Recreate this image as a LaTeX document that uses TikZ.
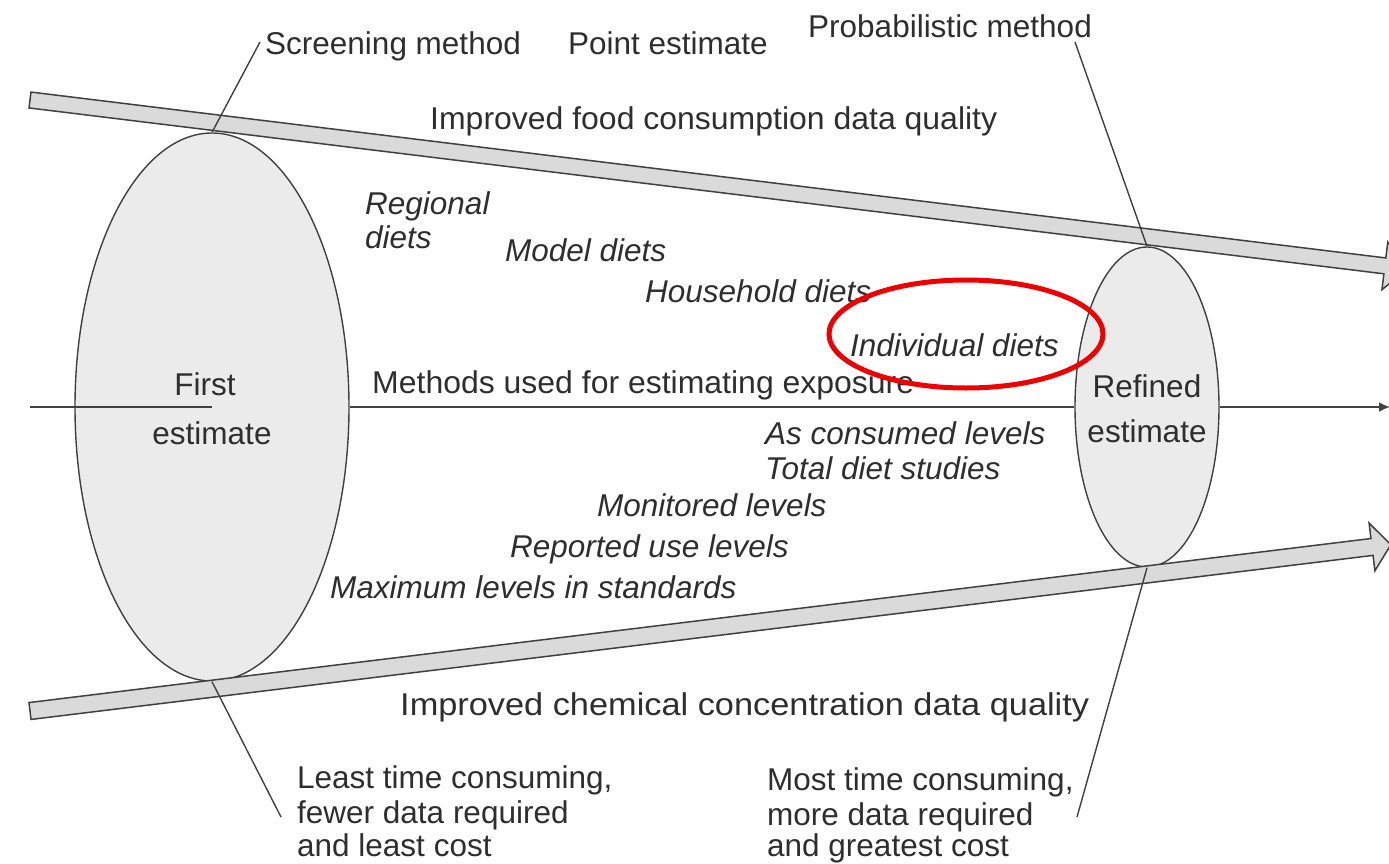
\documentclass[tikz,border=0pt]{standalone}
\usepackage{fontspec}
\setmainfont{Liberation Sans}
\usetikzlibrary{shapes.geometric,arrows.meta}
\definecolor{txt}{HTML}{2E2E2E}
\definecolor{edge}{HTML}{404040}
\definecolor{ellfill}{HTML}{EBEBEB}
\definecolor{bandfill}{HTML}{DADADA}
\definecolor{mark}{HTML}{EE0000}
\tikzset{
  lbl/.style={anchor=base west, inner sep=0pt, text=txt, font=\fontsize{31.5}{36}\selectfont},
  lblc/.style={anchor=base, inner sep=0pt, text=txt, font=\fontsize{31.5}{36}\selectfont},
  ilbl/.style={lbl, font=\fontsize{31.5}{36}\selectfont\itshape},
  estell/.style={ellipse, draw=edge, fill=ellfill, line width=1.4pt, inner sep=0pt},
  band/.style={draw=edge, fill=bandfill, line width=1.5pt, line join=miter},
  callout/.style={draw=edge, line width=1.4pt},
  axisline/.style={draw=edge, line width=2pt},
}
\begin{document}
\begin{tikzpicture}[x=1pt,y=-1pt]
\useasboundingbox (0,0) rectangle (1389,864);
% ellipses
\node[estell, minimum width=274pt, minimum height=548pt] (first) at (212,407) {};
\node[estell, minimum width=144pt, minimum height=320pt] (refined) at (1147,407) {};
% bands
\begin{scope}[shift={(30,100)},rotate=-6.98]
  \path[band] (0,-8) -- (1365,-8) -- (1365,-24) -- (1388,0) -- (1365,24) -- (1365,8) -- (0,8) -- cycle;
\end{scope}
\begin{scope}[shift={(30,711)},rotate=6.97]
  \path[band] (0,-8.5) -- (1352,-8.5) -- (1352,-24) -- (1371,0) -- (1352,24) -- (1352,8.5) -- (0,8.5) -- cycle;
\end{scope}
% middle axis
\coordinate (in) at (30,407);
\coordinate (out) at (1390,407);
\draw[axisline] (in) -- (first.center);
\draw[axisline] (first.east) -- (refined.west);
\draw[axisline, -{Latex[length=11pt,width=10pt]}] (refined.east) -- (out);
% top labels
\node[lbl] (scr) at (265,55) {Screening method};
\node[lbl] (pt) at (568,55) {Point estimate};
\node[lbl] (prob) at (808,38) {Probabilistic method};
\node[lbl] (food) at (430,130) {\scalebox{1.015}[1]{Improved food consumption data quality}};
% callouts
\coordinate (c1) at (260,42);
\coordinate (c2) at (1075,42);
\coordinate (c3) at (281,817);
\coordinate (c4) at (1077,817);
\draw[callout] (first.north) -- (c1);
\draw[callout] (refined.north) -- (c2);
\draw[callout] (first.south) -- (c3);
\draw[callout] (refined.south) -- (c4);
% diets
\node[ilbl] (reg1) at (365,214) {Regional};
\node[ilbl] (reg2) at (365,248) {diets};
\node[ilbl] (model) at (505,261) {Model diets};
\node[ilbl] (house) at (645,302) {Household diets};
\node[ilbl] (indiv) at (850,356) {Individual diets};
% middle labels
\node[lblc] (fe1) at (205,395) {First};
\node[lblc] (fe2) at (212,444) {estimate};
\node[lbl] (meth) at (372,393) {\scalebox{1.015}[1]{Methods used for estimating exposure}};
\node[lblc] (re1) at (1147,397) {Refined};
\node[lblc] (re2) at (1147,442) {estimate};
% levels
\node[ilbl] (asc) at (765,444) {As consumed levels};
\node[ilbl] (tds) at (765,479) {Total diet studies};
\node[ilbl] (mon) at (597,516) {Monitored levels};
\node[ilbl] (rep) at (510,557) {Reported use levels};
\node[ilbl] (maxl) at (330,598) {Maximum levels in standards};
% bottom labels
\node[lbl] (chem) at (400,715) {\scalebox{1.09}[1]{Improved chemical concentration data quality}};
\node[lbl] (l1) at (297,788) {Least time consuming,};
\node[lbl] (l2) at (297,823) {fewer data required};
\node[lbl] (l3) at (297,856) {and least cost};
\node[lbl] (m1) at (767,790) {Most time consuming,};
\node[lbl] (m2) at (767,825) {more data required};
\node[lbl] (m3) at (767,856) {and greatest cost};
% red highlight
\node[ellipse, draw=mark, line width=5pt, minimum width=274pt, minimum height=108pt] (hl) at (966,334) {};
\end{tikzpicture}
\end{document}
